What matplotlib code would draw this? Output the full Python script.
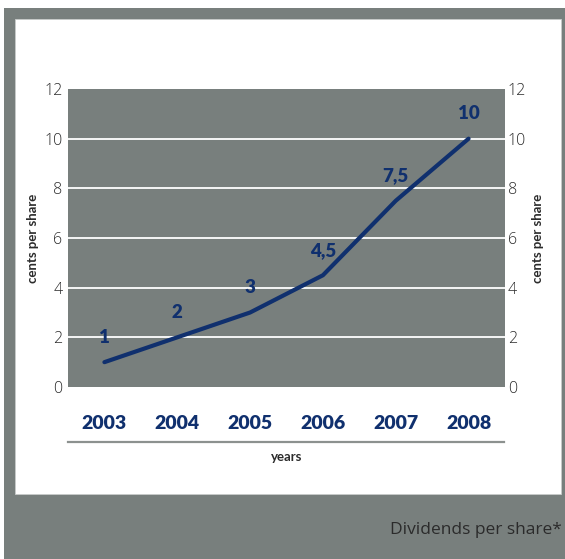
import matplotlib
matplotlib.use("Agg")
import matplotlib.pyplot as plt
from matplotlib.patches import Rectangle
from matplotlib.lines import Line2D

years = [2003, 2004, 2005, 2006, 2007, 2008]
dividends = [1, 2, 3, 4.5, 7.5, 10]
yticks = [0, 2, 4, 6, 8, 10, 12]

GRAY = "#787f7d"
NAVY = "#10306e"
TEXT = "#2b2b2b"
W, H = 565, 559
BOLD = ["Lato", "DejaVu Sans"]

plt.rcParams["font.family"] = ["Open Sans", "DejaVu Sans"]

fig = plt.figure(figsize=(W / 100, H / 100), dpi=100, facecolor="white")


def fx(x):
    return x / W


def fy(y):
    return 1 - y / H


# frame: gray surround with a white panel and a gray footer band
fig.add_artist(Rectangle((fx(4), 0), 1 - fx(4), fy(8), transform=fig.transFigure,
                         facecolor=GRAY, edgecolor="none", zorder=0))
fig.add_artist(Rectangle((fx(15), fy(494)), fx(561) - fx(15), fy(19) - fy(494),
                         transform=fig.transFigure, facecolor="white",
                         edgecolor="#c9cccb", linewidth=0.6, zorder=0))

ax = fig.add_axes([fx(68), fy(387), fx(505) - fx(68), fy(89) - fy(387)])
ax.set_facecolor(GRAY)
for s in ax.spines.values():
    s.set_visible(False)
ax.set_xlim(2002.5, 2008.5)
ax.set_ylim(0, 12)
ax.set_yticks(yticks)
ax.set_yticklabels([str(t) for t in yticks], fontsize=11.5, color=TEXT, fontweight="light")
ax.tick_params(axis="y", length=0, pad=4)
for t in yticks[1:-1]:
    ax.axhline(t, color="white", lw=1.3, zorder=1)

ax.set_xticks(years)
ax.set_xticklabels([str(y) for y in years], fontsize=14, fontweight="heavy",
                   color=NAVY, family=BOLD)
ax.tick_params(axis="x", length=0, pad=20)

ax.plot(years, dividends, color=NAVY, lw=3, solid_capstyle="round", zorder=3)
for x, v in zip(years, dividends):
    ax.annotate(f"{v:g}".replace(".", ","), (x, v), xytext=(0, 18),
                textcoords="offset points", ha="center", va="center",
                fontsize=13.5, fontweight="heavy", color=NAVY, family=BOLD, zorder=4)

ax2 = ax.twinx()
ax2.set_ylim(0, 12)
ax2.set_yticks(yticks)
ax2.set_yticklabels([str(t) for t in yticks], fontsize=11.5, color=TEXT, fontweight="light")
ax2.tick_params(axis="y", length=0, pad=2)
for s in ax2.spines.values():
    s.set_visible(False)

for xp in (33, 538):
    fig.text(fx(xp), fy(238), "cents per share", rotation=90, ha="center", va="center",
             fontsize=9.5, fontweight="bold", color=TEXT, family=BOLD)

fig.add_artist(Line2D([fx(68), fx(504)], [fy(442), fy(442)], transform=fig.transFigure,
                      color="#8c918f", lw=1.6))
fig.text(fx(287), fy(457), "years", ha="center", va="center",
         fontsize=9.5, fontweight="bold", color=TEXT, family=BOLD)

fig.text(fx(562), fy(530), "Dividends per share*", ha="right", va="center",
         fontsize=12.5, color=TEXT,
         family=["Liberation Sans Narrow", "Open Sans", "DejaVu Sans"])

fig.savefig("out.png", dpi=100, facecolor="white")
